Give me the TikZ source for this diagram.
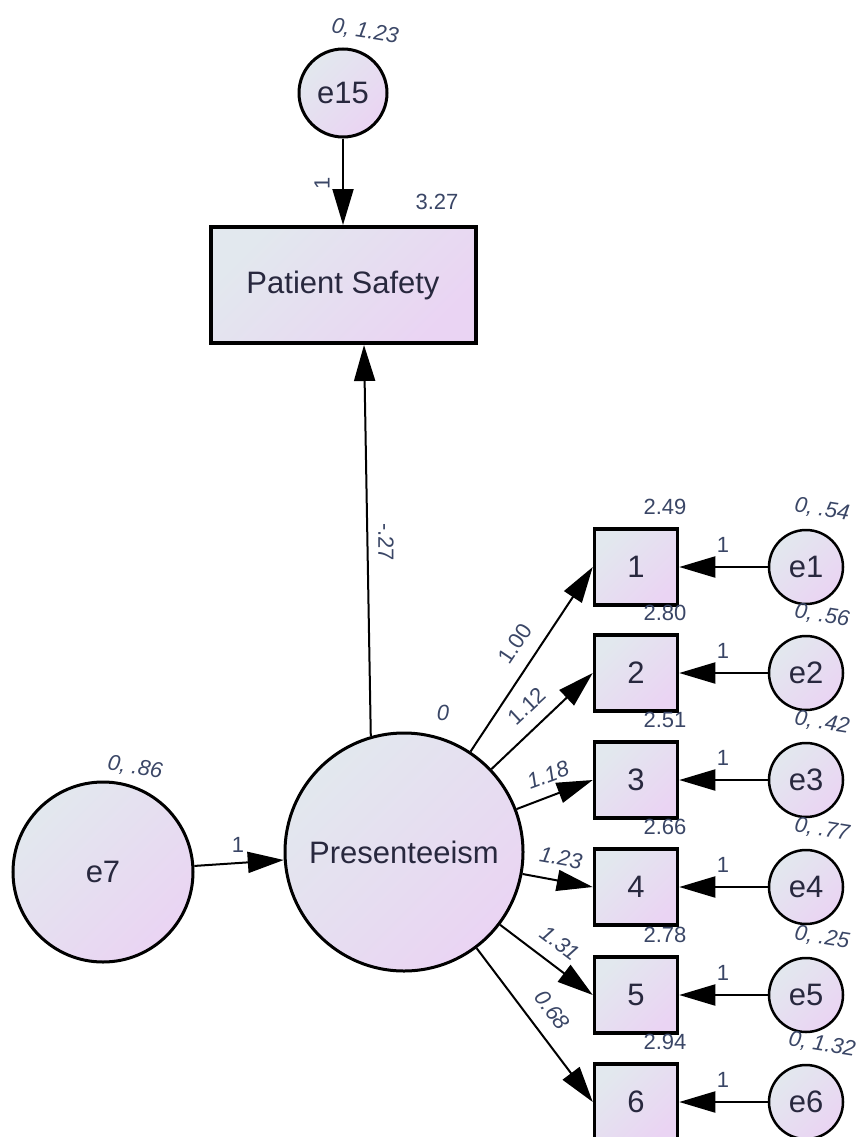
\documentclass[tikz,border=0pt]{standalone}
\usepackage{fontspec}
\setmainfont{Liberation Sans}
\usetikzlibrary{arrows.meta}

\definecolor{shadeA}{RGB}{226,232,238}
\definecolor{shadeB}{RGB}{234,212,243}
\definecolor{nodetext}{RGB}{40,40,62}
\definecolor{labeltext}{RGB}{58,70,102}

\tikzset{
  filled/.style={top color=shadeA, bottom color=shadeB, shading angle=45},
  bigtext/.style={font=\fontsize{31}{36}\selectfont, text=nodetext},
  latent/.style={circle, draw=black, line width=3pt, inner sep=0pt, filled, bigtext},
  observed/.style={rectangle, draw=black, line width=3.5pt, inner sep=0pt, filled, bigtext},
  estimate/.style={font=\fontsize{22}{26}\selectfont, text=labeltext, inner sep=0pt},
  estit/.style={estimate, font=\fontsize{22}{26}\selectfont\itshape},
  path/.style={line width=2pt, -{Triangle[length=36pt,width=21pt]}},
}

\begin{document}
\begin{tikzpicture}[x=1pt, y=-1pt]
\useasboundingbox (0,0) rectangle (861,1137);

% structural part
\node[latent, minimum size=88pt] (e15) at (343,93) {e15};
\node[observed, minimum width=265pt, minimum height=116pt, line width=4pt] (PS) at (343,285) {Patient Safety};
\node[latent, minimum size=238pt] (P) at (404,852) {Presenteeism};
\node[latent, minimum size=180pt] (e7) at (103,872) {e7};

% indicators and their error terms
\foreach \i/\y in {1/567, 2/673, 3/780, 4/887, 5/995, 6/1102} {
  \node[observed, minimum width=83pt, minimum height=76pt] (b\i) at (636,\y) {\i};
  \node[latent, minimum size=74pt, line width=2.5pt] (e\i) at (806,\y) {e\i};
  \draw[path] (e\i) -- (b\i);
}

\draw[path] (e15) -- (PS);
\draw[path] (P.106) -- ([xshift=21pt]PS.south);
\draw[path] (e7) -- (P);
\foreach \i in {1,...,6} { \draw[path] (P) -- (b\i.west); }

% estimates
\node[estit, rotate=-9] (v15) at (365,32) {0, 1.23};
\node[estimate, rotate=90] (w15) at (322,183) {1};
\node[estimate] (m0) at (437,202) {3.27};
\node[estimate, rotate=-90] (wp) at (386,542) {-.27};
\node[estit, rotate=-9] (v7) at (135,768) {0, .86};
\node[estimate] (w7) at (238,845) {1};
\node[estit] (mP) at (443,713) {0};

\node[estimate, rotate=56] (l1) at (515,644) {1.00};
\node[estimate, rotate=43] (l2) at (527,706) {1.12};
\node[estit, rotate=20] (l3) at (548,775) {1.18};
\node[estit, rotate=-10] (l4) at (561,858) {1.23};
\node[estit, rotate=-37] (l5) at (560,943) {1.31};
\node[estit, rotate=-53] (l6) at (552,1010) {0.68};

\foreach \i/\y/\m/\v in {1/567/2.49/{0, .54}, 2/673/2.80/{0, .56}, 3/780/2.51/{0, .42},
                         4/887/2.66/{0, .77}, 5/995/2.78/{0, .25}, 6/1102/2.94/{0, 1.32}} {
  \node[estimate] (m\i) at (665,\y-60) {\m};
  \node[estit, rotate=-9] (v\i) at (822,\y-57) {\v};
  \node[estimate] (w\i) at (723,\y-22) {1};
}
\end{tikzpicture}
\end{document}
